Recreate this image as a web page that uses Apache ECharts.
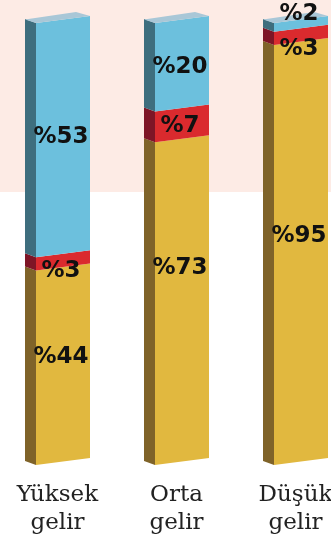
<!DOCTYPE html>
<html>
<head>
<meta charset="utf-8">
<script src="https://cdn.jsdelivr.net/npm/echarts@6/dist/echarts.min.js"></script>
<style>
html,body{margin:0;padding:0;background:#fff;}
#chart{width:331px;height:539px;}
</style>
</head>
<body>
<div id="chart"></div>
<script>
// ---- data ----
const categories = ['Yüksek gelir', 'Orta gelir', 'Düşük gelir'];
const yellowValues = [44, 73, 95];
const redValues = [3, 7, 3];
const blueValues = [53, 20, 2];

// ---- layout / style (not data) ----
const labelShift = { yellow: [-7, -32, -16], red: [11, 3, 14], blue: [0, 3, -10] };
const FRONT_W = 54, SIDE_W = 11, SIDE_DY = 4, SLOPE = 7 / 54;
const colors = {
  yellow: { front: '#e1b83f', side: '#7f6329' },
  red: { front: '#da2a2e', side: '#7e1526' },
  blue: { front: '#6cc0dd', side: '#3e6e7e', top: '#a9c7d7' }
};

const chart = echarts.init(document.getElementById('chart'), null, { renderer: 'canvas' });

function makeRender(key, isTop) {
  return function (params, api) {
    const i = api.value(0), v = api.value(1), base = api.value(2);
    const p0 = api.coord([i, base]);
    const p1 = api.coord([i, base + v]);
    const cx = p0[0];
    const yB = p0[1], yT = p1[1];
    const fl = cx - (FRONT_W + SIDE_W) / 2 + SIDE_W;
    const fr = fl + FRONT_W;
    const sl = fl - SIDE_W;
    const drop = SLOPE * FRONT_W;
    const c = colors[key];
    const children = [
      { type: 'polygon', shape: { points: [[sl, yB - SIDE_DY], [fl, yB], [fl, yT], [sl, yT - SIDE_DY]] },
        style: { fill: c.side } },
      { type: 'polygon', shape: { points: [[fl, yB], [fr, yB - drop], [fr, yT - drop], [fl, yT]] },
        style: { fill: c.front } }
    ];
    if (isTop) {
      children.push({ type: 'polygon',
        shape: { points: [[fl, yT], [fr, yT - drop], [fr - 14, yT - drop - 4], [sl, yT - 3.5]] },
        style: { fill: c.top } });
    }
    const fc = (fl + fr) / 2;
    const midY = (yB + yT) / 2 - SLOPE * FRONT_W / 2;
    children.push({ type: 'text', z2: 100,
      style: { text: '%' + v, x: fc - 2, y: midY + labelShift[key][i], align: 'center', verticalAlign: 'middle',
        fontFamily: '"DejaVu Sans"', fontWeight: 'bold', fontSize: 23, fill: '#111' } });
    return { type: 'group', children: children };
  };
}

const yellowData = yellowValues.map((v, i) => [i, v, 0]);
const redData = redValues.map((v, i) => [i, v, yellowValues[i]]);
const blueData = blueValues.map((v, i) => [i, v, yellowValues[i] + redValues[i]]);

chart.setOption({
  animation: false,
  backgroundColor: '#ffffff',
  graphic: [{ type: 'rect', z: -10, shape: { x: 0, y: 0, width: 331, height: 192 }, style: { fill: '#fdebe5' } }],
  grid: { left: -2, width: 357, top: 23, bottom: 74, containLabel: false, outerBoundsMode: 'none' },
  xAxis: {
    type: 'category', data: categories,
    axisLine: { show: false }, axisTick: { show: false }, splitLine: { show: false },
    axisLabel: { interval: 0, margin: 16, formatter: v => v.replace(' ', '\n'),
      fontFamily: '"DejaVu Serif"', fontSize: 23, lineHeight: 28, color: '#222' }
  },
  yAxis: { type: 'value', min: 0, max: 100, show: false },
  series: [
    { type: 'custom', name: 'yellow', renderItem: makeRender('yellow', false), data: yellowData, clip: false },
    { type: 'custom', name: 'red', renderItem: makeRender('red', false), data: redData, clip: false },
    { type: 'custom', name: 'blue', renderItem: makeRender('blue', true), data: blueData, clip: false }
  ]
});
</script>
</body>
</html>
